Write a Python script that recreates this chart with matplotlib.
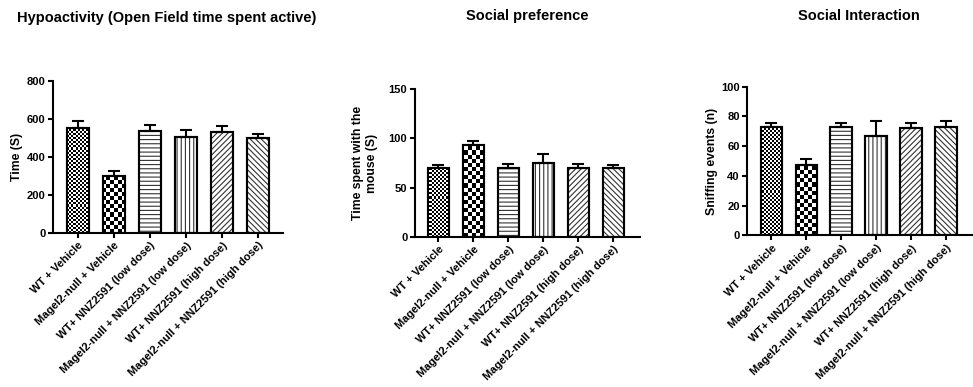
import numpy as np
import matplotlib
matplotlib.use("Agg")
import matplotlib.pyplot as plt

plt.rcParams['font.family'] = ['Liberation Sans', 'DejaVu Sans']
plt.rcParams['font.weight'] = 'bold'
plt.rcParams['hatch.linewidth'] = 0.8

groups = ["WT + Vehicle", "Magel2-null + Vehicle", "WT+ NNZ2591 (low dose)",
          "Magel2-null + NNZ2591 (low dose)", "WT+ NNZ2591 (high dose)",
          "Magel2-null + NNZ2591 (high dose)"]

open_field_mean = [550, 300, 536, 506, 533, 499]
open_field_sem = [39, 27, 32, 35, 30, 21]

social_pref_mean = [70, 93, 70, 75.5, 70, 70]
social_pref_sem = [3, 4.5, 4, 9, 4, 3]

sniff_mean = [72.8, 47.5, 72.8, 66.8, 72.4, 73.0]
sniff_sem = [3, 4, 3, 10, 3.5, 4]

titles = ["Hypoactivity (Open Field time spent active)", "Social preference", "Social Interaction"]
ylabels = ["Time (S)", "Time spent with the\nmouse (S)", "Sniffing events (n)"]
yticks = [[0, 200, 400, 600, 800], [0, 50, 100, 150], [0, 20, 40, 60, 80, 100]]

W, H = 973, 387
fig = plt.figure(figsize=(W / 100, H / 100), dpi=100)

# axes rectangles in pixels: left, right, top, bottom
rects = [(53, 283, 81, 232.7), (415, 640, 89.3, 236.7), (747.3, 972, 86.7, 235.3)]
xlims = [(-0.69, 5.69), (-0.67, 5.76), (-0.69, 5.74)]
title_pos = [(167, 18), (527, 16), (859, 16)]
ylabel_x = [17, 365, 712]

hatches = [None, None, '----', '||||', '//////', '\\\\\\\\\\\\']
checker_cell = {0: 2, 1: 4}

def checker(ax, bar, cell_px, pw, ph):
    nx = int(pw / cell_px)
    ny = int(ph / cell_px)
    yy, xx = np.mgrid[0:ny, 0:nx]
    img = ((xx + yy) % 2).astype(float)
    x0, x1 = ax.get_xlim()
    y0, y1 = ax.get_ylim()
    im = ax.imshow(img, cmap='gray', vmin=0, vmax=1, extent=(x0, x1, y0, y1),
                   origin='lower', aspect='auto', interpolation='nearest', zorder=2)
    im.set_clip_path(bar)

datasets = [(open_field_mean, open_field_sem), (social_pref_mean, social_pref_sem), (sniff_mean, sniff_sem)]

for i, ((means, sems), (l, r, t, b)) in enumerate(zip(datasets, rects)):
    ax = fig.add_axes([l / W, 1 - b / H, (r - l) / W, (b - t) / H])
    x = np.arange(len(groups))
    ax.set_xlim(*xlims[i])
    ax.set_ylim(0, yticks[i][-1])
    bars = ax.bar(x, means, width=0.62, color='white', edgecolor='#333333', linewidth=1.5, zorder=1)
    pw, ph = r - l, b - t
    for j, bar in enumerate(bars):
        if hatches[j]:
            bar.set_hatch(hatches[j])
        if j in checker_cell:
            checker(ax, bar, checker_cell[j], pw, ph)
    ax.bar(x, means, width=0.62, color='none', edgecolor='black', linewidth=1.5, zorder=3)
    ax.errorbar(x, means, yerr=[np.zeros(len(sems)), sems], fmt='none', ecolor='black',
                elinewidth=1.5, capsize=4.5, capthick=1.5, zorder=2.5)
    ax.set_xlim(*xlims[i])
    ax.set_ylim(0, yticks[i][-1])
    for s in ['top', 'right']:
        ax.spines[s].set_visible(False)
    for s in ['left', 'bottom']:
        ax.spines[s].set_linewidth(1.5)
    ax.set_yticks(yticks[i])
    ax.set_xticks(x)
    ax.set_xticklabels(groups, rotation=45, ha='right', rotation_mode='anchor',
                       fontsize=8, fontweight='bold')
    ax.tick_params(axis='both', direction='out', length=3.5, width=1.5, labelsize=8, pad=2)
    for lab in ax.get_yticklabels():
        lab.set_fontweight('bold')
    fig.text(ylabel_x[i] / W, 1 - (t + b) / 2 / H, ylabels[i], rotation=90, ha='center',
             va='center', fontsize=8.8, fontweight='bold', multialignment='center')
    fig.text(title_pos[i][0] / W, 1 - title_pos[i][1] / H, titles[i], ha='center', va='center',
             fontsize=10.5, fontweight='bold')

fig.savefig("out.png", dpi=100)
